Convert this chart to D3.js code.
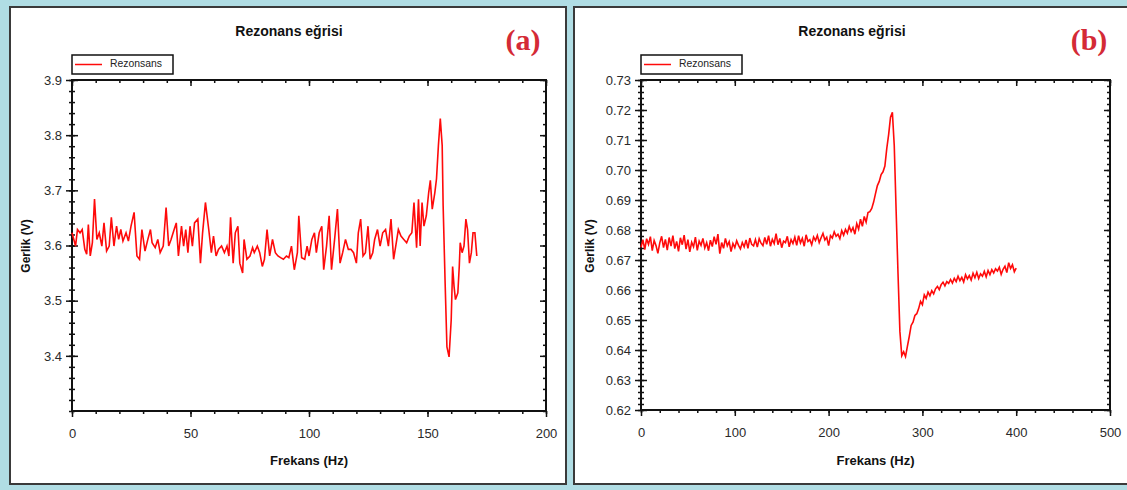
<!DOCTYPE html>
<html>
<head>
<meta charset="utf-8">
<script src="https://cdn.jsdelivr.net/npm/d3@7"></script>
<style>
body { margin: 0; background: #b0dde4; }
svg { display: block; }
</style>
</head>
<body>
<div id="chart"></div>
<script>
// panel (a) - frequency (Hz) and voltage (V)
var freqA = [0.0, 1.5, 2.3, 3.4, 4.3, 5.4, 6.2, 6.9, 7.7, 8.6, 9.5, 10.5, 11.5, 12.6, 13.5, 14.6, 15.7, 16.6, 17.7, 18.8,
    19.7, 20.6, 21.5, 22.8, 23.8, 24.9, 26.2, 27.4, 28.5, 29.5, 30.8, 32.0, 33.1, 33.8, 35.1, 36.2, 37.2, 38.5, 39.7, 40.8,
    41.8, 43.1, 44.0, 44.9, 46.2, 47.1, 48.0, 48.9, 49.8, 50.8, 51.7, 53.1, 54.2, 55.1, 56.3, 57.7, 58.8, 59.7, 60.8, 61.8,
    63.1, 64.3, 65.4, 66.2, 66.9, 68.0, 68.9, 70.0, 70.8, 72.0, 72.6, 73.8, 75.1, 76.2, 76.9, 78.2, 79.2, 80.3, 81.2, 82.3,
    83.4, 84.6, 85.8, 86.9, 88.0, 89.2, 90.5, 91.5, 92.6, 93.8, 95.1, 95.7, 96.9, 98.2, 99.2, 100.0, 101.2, 102.3, 103.1, 104.3,
    105.4, 106.2, 107.4, 108.5, 109.5, 110.8, 112.0, 113.1, 114.2, 115.4, 116.6, 117.7, 118.8, 120.0, 120.8, 121.8, 122.8, 123.8, 124.9, 125.8,
    126.9, 127.7, 128.9, 130.0, 131.1, 132.3, 133.5, 134.6, 135.7, 136.6, 137.7, 138.8, 140.0, 141.2, 142.3, 143.4, 144.3, 145.4, 146.2, 146.9,
    147.7, 148.5, 149.5, 150.5, 151.2, 152.0, 153.1, 153.8, 154.6, 155.4, 156.2, 156.6, 157.4, 158.2, 159.1, 160.0, 160.6, 161.2, 161.8, 162.8,
    163.4, 163.8, 164.6, 165.4, 166.2, 166.9, 167.7, 168.5, 169.2, 170.0, 170.8];
var voltA = [3.623, 3.599, 3.629, 3.623, 3.629, 3.593, 3.584, 3.638, 3.581, 3.605, 3.684, 3.611, 3.623, 3.599, 3.641, 3.590, 3.599, 3.651, 3.599, 3.635,
    3.611, 3.629, 3.608, 3.623, 3.608, 3.635, 3.660, 3.581, 3.575, 3.629, 3.590, 3.611, 3.629, 3.605, 3.596, 3.611, 3.587, 3.599, 3.669, 3.599,
    3.611, 3.629, 3.641, 3.581, 3.635, 3.599, 3.629, 3.587, 3.635, 3.599, 3.641, 3.648, 3.568, 3.623, 3.678, 3.629, 3.587, 3.617, 3.581, 3.593,
    3.599, 3.587, 3.599, 3.581, 3.651, 3.568, 3.623, 3.635, 3.568, 3.550, 3.611, 3.575, 3.581, 3.596, 3.587, 3.599, 3.587, 3.562, 3.575, 3.629,
    3.581, 3.611, 3.587, 3.581, 3.578, 3.575, 3.581, 3.578, 3.599, 3.556, 3.587, 3.654, 3.578, 3.575, 3.599, 3.581, 3.611, 3.623, 3.587, 3.623,
    3.635, 3.556, 3.599, 3.654, 3.556, 3.611, 3.666, 3.568, 3.587, 3.611, 3.593, 3.593, 3.587, 3.568, 3.623, 3.648, 3.581, 3.587, 3.635, 3.575,
    3.587, 3.611, 3.629, 3.599, 3.623, 3.629, 3.599, 3.648, 3.575, 3.599, 3.629, 3.617, 3.611, 3.605, 3.617, 3.623, 3.678, 3.596, 3.684, 3.599,
    3.678, 3.635, 3.654, 3.696, 3.718, 3.666, 3.696, 3.721, 3.781, 3.830, 3.781, 3.672, 3.538, 3.416, 3.398, 3.465, 3.562, 3.526, 3.502, 3.514,
    3.562, 3.605, 3.587, 3.599, 3.648, 3.629, 3.568, 3.587, 3.623, 3.623, 3.581];

// panel (b) - frequency (Hz) and voltage (V)
var freqB = [0, 2, 4, 6, 8, 10, 12, 14, 16, 18, 20, 22, 24, 26, 28, 30, 32, 34, 36, 38,
    40, 42, 44, 46, 48, 50, 52, 54, 56, 58, 60, 62, 64, 66, 68, 70, 72, 74, 76, 78,
    80, 82, 84, 86, 88, 90, 92, 94, 96, 98, 100, 102, 104, 106, 108, 110, 112, 114, 116, 118,
    120, 122, 124, 126, 128, 130, 132, 134, 136, 138, 140, 142, 144, 146, 148, 150, 152, 154, 156, 158,
    160, 162, 164, 166, 168, 170, 172, 174, 176, 178, 180, 182, 184, 186, 188, 190, 192, 194, 196, 198,
    200, 202, 204, 206, 208, 210, 212, 214, 216, 218, 220, 222, 224, 226, 228, 230, 232, 234, 236, 238,
    240, 242, 244, 246, 248, 250, 252, 254, 256, 258, 260, 262, 264, 266, 268, 270, 272, 274, 276, 278,
    280, 282, 284, 286, 288, 290, 292, 294, 296, 298, 300, 302, 304, 306, 308, 310, 312, 314, 316, 318,
    320, 322, 324, 326, 328, 330, 332, 334, 336, 338, 340, 342, 344, 346, 348, 350, 352, 354, 356, 358,
    360, 362, 364, 366, 368, 370, 372, 374, 376, 378, 380, 382, 384, 386, 388, 390, 392, 394, 396, 398, 400];
var voltB = [0.6742, 0.6768, 0.6735, 0.6771, 0.6752, 0.6778, 0.6731, 0.6765, 0.6748, 0.6722, 0.6757, 0.6779, 0.6741, 0.6769, 0.6733, 0.6775, 0.6746, 0.6781, 0.6738, 0.6762,
    0.6729, 0.6774, 0.6751, 0.6783, 0.6736, 0.6768, 0.6727, 0.6759, 0.6744, 0.6776, 0.6732, 0.6763, 0.6749, 0.6772, 0.6740, 0.6758, 0.6731, 0.6766, 0.6745, 0.6778,
    0.6752, 0.6786, 0.6721, 0.6758, 0.6739, 0.6772, 0.6747, 0.6761, 0.6728, 0.6755, 0.6741, 0.6764, 0.6749, 0.6737, 0.6758, 0.6744, 0.6767, 0.6739, 0.6773, 0.6752,
    0.6747, 0.6768, 0.6743, 0.6771, 0.6756, 0.6748, 0.6775, 0.6752, 0.6781, 0.6746, 0.6769, 0.6755, 0.6788, 0.6751, 0.6772, 0.6741, 0.6763, 0.6758, 0.6779, 0.6744,
    0.6768, 0.6755, 0.6776, 0.6749, 0.6781, 0.6757, 0.6772, 0.6746, 0.6784, 0.6762, 0.6768, 0.6751, 0.6777, 0.6765, 0.6782, 0.6758, 0.6774, 0.6789, 0.6767, 0.6776,
    0.6748, 0.6781, 0.6773, 0.6794, 0.6779, 0.6786, 0.6771, 0.6798, 0.6783, 0.6802, 0.6789, 0.6812, 0.6795, 0.6808, 0.6786, 0.6821, 0.6803, 0.6836, 0.6812, 0.6845,
    0.6826, 0.6858, 0.6861, 0.6872, 0.6893, 0.6921, 0.6948, 0.6962, 0.6985, 0.6994, 0.7013, 0.7071, 0.7118, 0.7176, 0.7192, 0.7081, 0.6863, 0.6655, 0.6462, 0.6381,
    0.6394, 0.6378, 0.6412, 0.6445, 0.6482, 0.6493, 0.6515, 0.6521, 0.6538, 0.6562, 0.6551, 0.6584, 0.6572, 0.6593, 0.6581, 0.6598, 0.6587, 0.6604, 0.6612, 0.6601,
    0.6618, 0.6626, 0.6614, 0.6628, 0.6622, 0.6635, 0.6623, 0.6639, 0.6628, 0.6646, 0.6631, 0.6642, 0.6627, 0.6651, 0.6637, 0.6648, 0.6633, 0.6656, 0.6641, 0.6659,
    0.6638, 0.6654, 0.6646, 0.6662, 0.6644, 0.6665, 0.6651, 0.6668, 0.6657, 0.6671, 0.6663, 0.6676, 0.6652, 0.6669, 0.6679, 0.6658, 0.6691, 0.6672, 0.6684, 0.6661, 0.6673];

// tick values
var xTicksA = [0, 50, 100, 150, 200];
var yTicksA = [3.4, 3.5, 3.6, 3.7, 3.8, 3.9];
var xTicksB = [0, 100, 200, 300, 400, 500];
var yTicksB = [0.62, 0.63, 0.64, 0.65, 0.66, 0.67, 0.68, 0.69, 0.70, 0.71, 0.72, 0.73];

var svgWidth = 1127;
var svgHeight = 490;

var svg = d3.select("#chart").append("svg")
    .attr("width", svgWidth)
    .attr("height", svgHeight);

var fontSans = "'Liberation Sans', Arial, sans-serif";

function drawPanel(p) {
    //panel frame
    svg.append("rect")
        .attr("x", p.box[0]).attr("y", p.box[1])
        .attr("width", p.box[2]).attr("height", p.box[3])
        .attr("fill", "white")
        .attr("stroke", "#3a3a3a")
        .attr("stroke-width", 2);

    var x = d3.scaleLinear().domain(p.xDomain).range([p.left, p.right]);
    var y = d3.scaleLinear().domain(p.yDomain).range([p.bottom, p.top]);

    var g = svg.append("g");

    //ticks without labels
    function bare(axis, tr) {
        var a = g.append("g").attr("transform", tr).call(axis);
        a.select(".domain").remove();
        a.selectAll("text").remove();
        a.selectAll("line").attr("stroke", "#111").attr("stroke-width", 1.5);
        return a;
    }
    //minor ticks
    bare(d3.axisBottom(x).tickValues(p.xMinor).tickSize(3).tickFormat(""), `translate(0, ${p.bottom})`);
    bare(d3.axisBottom(x).tickValues(p.xMinor).tickSize(3).tickFormat(""), `translate(0, ${p.top})`);
    bare(d3.axisLeft(y).tickValues(p.yMinor).tickSize(3).tickFormat(""), `translate(${p.left}, 0)`);
    bare(d3.axisRight(y).tickValues(p.yMinor).tickSize(3).tickFormat(""), `translate(${p.left}, 0)`);
    bare(d3.axisLeft(y).tickValues(p.yMinor).tickSize(3).tickFormat(""), `translate(${p.right}, 0)`);

    //major ticks inside
    bare(d3.axisBottom(x).tickValues(p.xTicks).tickSize(6).tickFormat(""), `translate(0, ${p.top})`);
    bare(d3.axisRight(y).tickValues(p.yTicks).tickSize(6).tickFormat(""), `translate(${p.left}, 0)`);
    bare(d3.axisLeft(y).tickValues(p.yTicks).tickSize(6).tickFormat(""), `translate(${p.right}, 0)`);

    //bottom axis with labels
    var xAxis = g.append("g")
        .attr("transform", `translate(0, ${p.bottom})`)
        .call(d3.axisBottom(x).tickValues(p.xTicks).tickSize(6).tickPadding(12).tickFormat(d3.format("d")));
    xAxis.select(".domain").remove();
    xAxis.selectAll("line").attr("stroke", "#111").attr("stroke-width", 1.5);
    xAxis.selectAll("text").attr("font-size", 13).attr("font-family", fontSans).attr("fill", "#2a2a2a");

    //left axis with labels
    var yAxis = g.append("g")
        .attr("transform", `translate(${p.left}, 0)`)
        .call(d3.axisLeft(y).tickValues(p.yTicks).tickSize(6).tickPadding(4).tickFormat(d3.format(p.yFormat)));
    yAxis.select(".domain").remove();
    yAxis.selectAll("line").attr("stroke", "#111").attr("stroke-width", 1.5);
    yAxis.selectAll("text").attr("font-size", 13).attr("font-family", fontSans).attr("fill", "#2a2a2a");

    //plot frame
    g.append("rect")
        .attr("x", p.left).attr("y", p.top)
        .attr("width", p.right - p.left).attr("height", p.bottom - p.top)
        .attr("fill", "none")
        .attr("stroke", "#111")
        .attr("stroke-width", 2);

    //curve
    var pts = p.xs.map((d, i) => [d, p.ys[i]]);
    var line = d3.line()
        .x(d => x(d[0]))
        .y(d => y(d[1]));
    g.append("path")
        .datum(pts)
        .attr("d", line)
        .attr("fill", "none")
        .attr("stroke", "#ff0a0a")
        .attr("stroke-width", 1.6);

    //title
    g.append("text")
        .attr("x", p.titleX).attr("y", 36)
        .attr("text-anchor", "middle")
        .attr("font-family", fontSans)
        .attr("font-weight", "bold")
        .attr("font-size", 14)
        .attr("fill", "#111")
        .text("Rezonans eğrisi");

    //panel letter
    g.append("text")
        .attr("x", p.letterX).attr("y", 50)
        .attr("text-anchor", "middle")
        .attr("font-family", "'Liberation Serif', 'Times New Roman', serif")
        .attr("font-weight", "bold")
        .attr("font-size", 30)
        .attr("fill", "#d42a36")
        .text(p.letter);

    //legend
    var lg = g.append("g").attr("transform", `translate(${p.left}, 55)`);
    lg.append("rect")
        .attr("width", 101).attr("height", 19)
        .attr("fill", "white")
        .attr("stroke", "#111")
        .attr("stroke-width", 1.5);
    lg.append("line")
        .attr("x1", 3).attr("x2", 30)
        .attr("y1", 9.5).attr("y2", 9.5)
        .attr("stroke", "#ff0a0a")
        .attr("stroke-width", 1.5);
    lg.append("text")
        .attr("x", 38).attr("y", 12)
        .attr("font-family", fontSans)
        .attr("font-size", 11)
        .attr("textLength", 52)
        .attr("lengthAdjust", "spacingAndGlyphs")
        .attr("fill", "#222")
        .text("Rezonsans");

    //axis labels
    g.append("text")
        .attr("x", (p.left + p.right) / 2).attr("y", 465)
        .attr("text-anchor", "middle")
        .attr("font-family", fontSans)
        .attr("font-weight", "bold")
        .attr("font-size", 13)
        .attr("fill", "#111")
        .text("Frekans (Hz)");
    g.append("text")
        .attr("transform", `translate(${p.yLabelX}, 246) rotate(-90)`)
        .attr("text-anchor", "middle")
        .attr("font-family", fontSans)
        .attr("font-weight", "bold")
        .attr("font-size", 12)
        .attr("fill", "#111")
        .text("Gerlik (V)");
}

drawPanel({
    box: [10, 7, 556, 477],
    left: 72, right: 546, top: 80, bottom: 411,
    xDomain: [0, 200], yDomain: [3.3, 3.9],
    xTicks: xTicksA, yTicks: yTicksA,
    xMinor: d3.range(0, 201, 10), yMinor: d3.range(3.3, 3.901, 0.02),
    yFormat: ".1f",
    xs: freqA, ys: voltA,
    titleX: 289, letterX: 523, letter: "(a)", yLabelX: 30
});

drawPanel({
    box: [574, 7, 560, 477],
    left: 641, right: 1110, top: 80, bottom: 410,
    xDomain: [0, 500], yDomain: [0.62, 0.73],
    xTicks: xTicksB, yTicks: yTicksB,
    xMinor: d3.range(0, 501, 20), yMinor: d3.range(0.62, 0.7301, 0.002),
    yFormat: ".2f",
    xs: freqB, ys: voltB,
    titleX: 852, letterX: 1089, letter: "(b)", yLabelX: 594
});
</script>
</body>
</html>
